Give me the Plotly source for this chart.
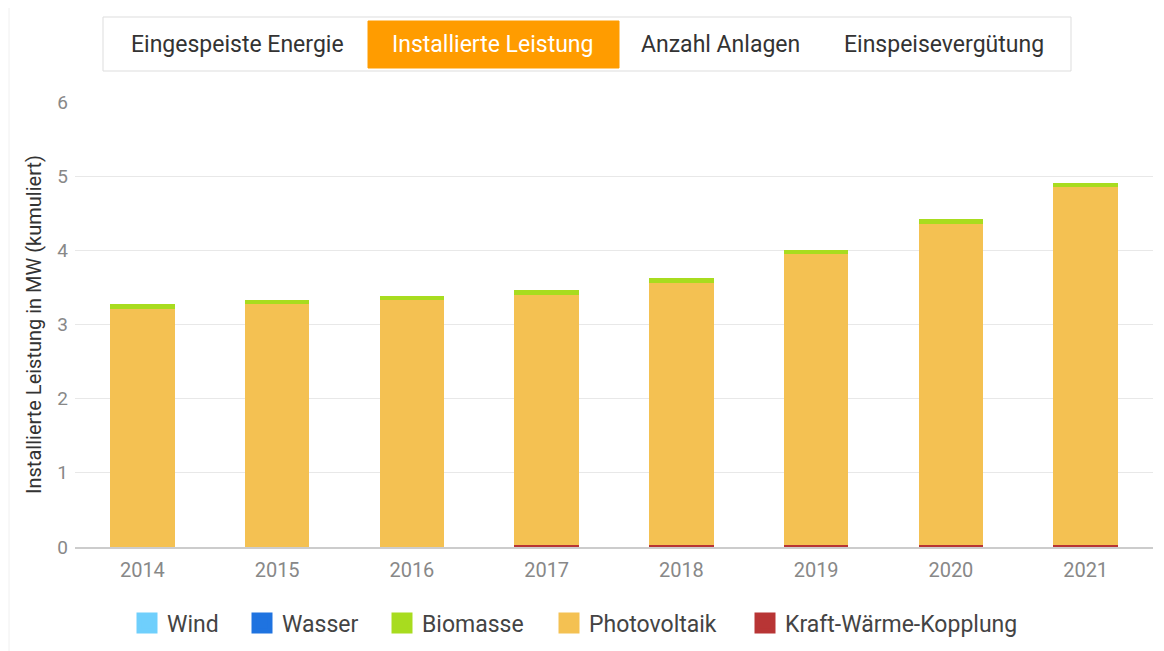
import plotly.graph_objects as go

years = ["2014", "2015", "2016", "2017", "2018", "2019", "2020", "2021"]
wind = [0, 0, 0, 0, 0, 0, 0, 0]
wasser = [0, 0, 0, 0, 0, 0, 0, 0]
kwk = [0, 0, 0, 0.03, 0.03, 0.03, 0.03, 0.03]
photovoltaik = [3.21, 3.27, 3.33, 3.37, 3.53, 3.92, 4.33, 4.82]
biomasse = [0.06, 0.06, 0.06, 0.06, 0.07, 0.06, 0.06, 0.06]

series_names = ["Wind", "Wasser", "Biomasse", "Photovoltaik", "Kraft-Wärme-Kopplung"]
series_values = [wind, wasser, biomasse, photovoltaik, kwk]
series_colors = ["#6fcffc", "#1f73e0", "#a8dc1f", "#f4c152", "#b83535"]
stack_order = ["Kraft-Wärme-Kopplung", "Wasser", "Wind", "Photovoltaik", "Biomasse"]

buttons = ["Eingespeiste Energie", "Installierte Leistung", "Anzahl Anlagen", "Einspeisevergütung"]

FONT = "Roboto"
OFF = 8  # default page body margin
FW, FH = 1164 - OFF, 651 - OFF
# plot area in screen pixels
L, R, T, B = 75, 1153, 102, 547
W, H = R - L, B - T


def px(x):
    return (x - L) / W


def py(y):
    return (B - y) / H


fig = go.Figure()
for name in stack_order:
    i = series_names.index(name)
    fig.add_trace(go.Bar(
        x=years, y=series_values[i], name=name, showlegend=False,
        marker=dict(color=series_colors[i], line=dict(width=0)),
    ))

# legend entries (one legend per item for exact placement)
legend_left = [127, 242, 382, 549, 745]
for i, name in enumerate(series_names):
    lg = "legend" if i == 0 else f"legend{i + 1}"
    fig.add_trace(go.Scatter(
        x=[None], y=[None], mode="markers", name=name, legend=lg,
        marker=dict(symbol="square", size=16, color=series_colors[i],
                    line=dict(width=5, color=series_colors[i])),
    ))
    fig.update_layout({lg: dict(
        x=px(legend_left[i]), xanchor="left", y=py(623), yanchor="middle",
        font=dict(size=23, color="#444", family=FONT), bgcolor="rgba(0,0,0,0)",
        borderwidth=0, itemwidth=30,
    )})

fig.update_layout(
    width=FW, height=FH,
    barmode="stack", bargap=0.52,
    paper_bgcolor="white", plot_bgcolor="white",
    margin=dict(l=L - OFF, r=1164 - R, t=T - OFF, b=651 - B, autoexpand=False),
    font=dict(family=FONT, color="#555"),
    showlegend=True,
    xaxis=dict(showgrid=False, tickfont=dict(size=20, color="#888"), ticks="",
               showline=True, linecolor="#cccccc", linewidth=2, automargin=False,
               ticklabelstandoff=4),
    yaxis=dict(range=[0, 6], dtick=1, gridcolor="#e8e8e8", gridwidth=1,
               tickfont=dict(size=19, color="#888"), zeroline=False, automargin=False,
               ticklabelstandoff=6,
               title=dict(text="Installierte Leistung in MW (kumuliert)",
                          font=dict(size=20, color="#333"), standoff=10)),
)

# Button bar
fig.add_shape(type="rect", xref="paper", yref="paper",
              x0=px(103), x1=px(1071), y0=py(71), y1=py(17),
              line=dict(color="#dddddd", width=1), fillcolor="white", layer="above")
fig.add_shape(type="rect", xref="paper", yref="paper",
              x0=px(368), x1=px(619), y0=py(68), y1=py(21),
              line=dict(color="#ff9c00", width=1), fillcolor="#ff9c00", layer="above")
button_x = [237, 493, 720, 944]
for i, (label, bx) in enumerate(zip(buttons, button_x)):
    fig.add_annotation(xref="paper", yref="paper", x=px(bx), y=py(44),
                       xanchor="center", yanchor="middle",
                       text=label, showarrow=False,
                       font=dict(size=23, family=FONT,
                                 color="white" if i == 1 else "#333"))

# faint outer frame
fig.add_shape(type="line", xref="paper", yref="paper",
              x0=px(9), x1=px(9), y0=py(651), y1=py(4),
              line=dict(color="#f0f0f0", width=1), layer="below")
fig.add_shape(type="line", xref="paper", yref="paper",
              x0=px(9), x1=px(1164), y0=py(4), y1=py(4),
              line=dict(color="#f0f0f0", width=1), layer="below")

fig.write_html("out.html")
